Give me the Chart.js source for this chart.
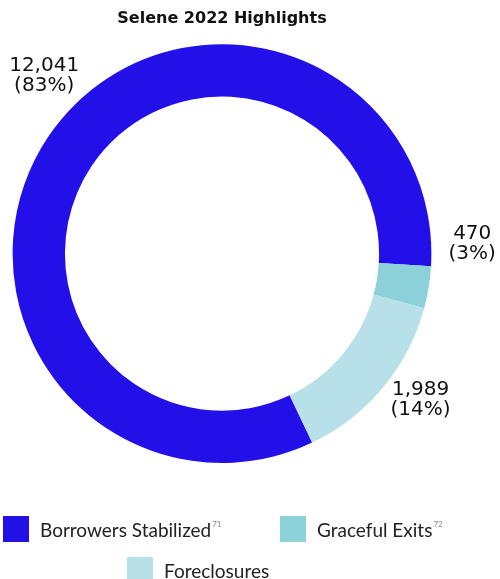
<!DOCTYPE html>
<html>
<head>
<meta charset="utf-8">
<script src="https://cdn.jsdelivr.net/npm/chart.js@4"></script>
<style>
  html, body { margin: 0; padding: 0; background: #fff; }
  #wrap { position: relative; width: 500px; height: 579px; overflow: hidden; }
  #legend { position: absolute; left: 0; top: 0; width: 500px; height: 579px; pointer-events: none;
            font-family: Lato, "Open Sans", sans-serif; font-size: 19px; color: #222; }
  .item { position: absolute; display: flex; align-items: center; white-space: nowrap; }
  .box { width: 26px; height: 26px; margin-right: 11px; }
  .item sup { font-size: 8px; color: #888; vertical-align: 10px; margin-left: 1px; }
</style>
</head>
<body>
<div id="wrap">
  <canvas id="c" width="500" height="579"></canvas>
  <div id="legend"></div>
</div>
<script>
const title = "Selene 2022 Highlights";
const categories = ["Borrowers Stabilized", "Graceful Exits", "Foreclosures"];
const footnotes = ["71", "72", ""];
const values = [12041, 470, 1989];
const colors = ["#230FE8", "#8CD0DA", "#B8E0E8"];

const total = values.reduce((a, b) => a + b, 0);

const outsideLabels = {
  id: 'outsideLabels',
  afterDatasetsDraw(chart, args, opts) {
    const ctx = chart.ctx;
    const meta = chart.getDatasetMeta(0);
    ctx.save();
    ctx.font = opts.font;
    ctx.fillStyle = opts.color;
    ctx.textAlign = 'center';
    ctx.textBaseline = 'middle';
    meta.data.forEach((arc, i) => {
      const p = arc.getProps(['x', 'y', 'startAngle', 'endAngle', 'outerRadius'], true);
      const mid = (p.startAngle + p.endAngle) / 2 + (opts.angleShift[i] || 0) * Math.PI / 180;
      const r = p.outerRadius + (opts.offset[i] || 40);
      const cx = p.x + Math.cos(mid) * r;
      const cy = p.y + Math.sin(mid) * r;
      const v = chart.data.datasets[0].data[i];
      const pct = Math.round(v / total * 100);
      ctx.fillText(v.toLocaleString('en-US'), cx, cy - 10);
      ctx.fillText('(' + pct + '%)', cx, cy + 10);
    });
    ctx.restore();
  }
};

new Chart(document.getElementById('c'), {
  type: 'doughnut',
  data: {
    labels: categories,
    datasets: [{
      data: values,
      backgroundColor: colors,
      borderWidth: 0
    }]
  },
  options: {
    responsive: false,
    animation: false,
    rotation: 154.5,
    cutout: '75%',
    layout: { padding: { left: 12, right: 68, top: 0, bottom: 116 } },
    plugins: {
      legend: { display: false },
      tooltip: { enabled: false },
      title: {
        display: true,
        text: title,
        color: '#111',
        font: { family: 'DejaVu Sans', size: 16, weight: 'bold' },
        padding: { top: 9, bottom: 16 }
      },
      outsideLabels: {
        font: '20px "DejaVu Sans"',
        color: '#111',
        angleShift: [11, -11.5, -3.5],
        offset: [42, 41, 37]
      }
    }
  },
  plugins: [outsideLabels]
});

// HTML legend
const legendPos = [[3, 516], [280, 516], [127, 557]];
const leg = document.getElementById('legend');
categories.forEach((c, i) => {
  const d = document.createElement('div');
  d.className = 'item';
  d.style.left = legendPos[i][0] + 'px';
  d.style.top = legendPos[i][1] + 'px';
  d.innerHTML = '<span class="box" style="background:' + colors[i] + '"></span>' +
    '<span>' + c + (footnotes[i] ? '<sup>' + footnotes[i] + '</sup>' : '') + '</span>';
  leg.appendChild(d);
});
</script>
</body>
</html>
